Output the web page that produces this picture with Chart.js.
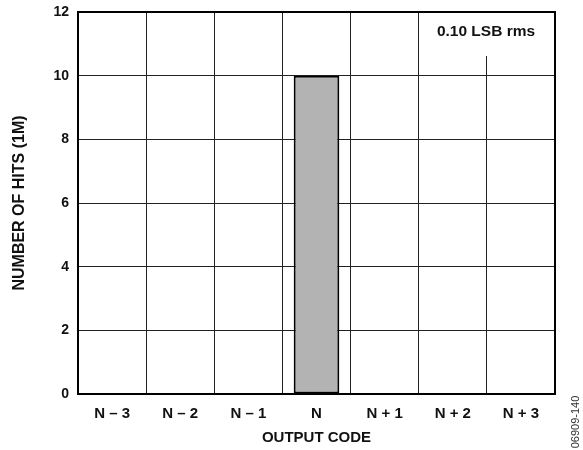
<!DOCTYPE html>
<html>
<head>
<meta charset="utf-8">
<script src="https://cdn.jsdelivr.net/npm/chart.js@4/dist/chart.umd.min.js"></script>
<style>
  html, body { margin: 0; padding: 0; background: #fff; }
  #wrap { width: 583px; height: 450px; }
</style>
</head>
<body>
<div id="wrap"><canvas id="hist"></canvas></div>
<script>
// histogram of output codes
const categories = ['N – 3', 'N – 2', 'N – 1', 'N', 'N + 1', 'N + 2', 'N + 3'];
const hits = [0, 0, 0, 10, 0, 0, 0];
const yTicks = [0, 2, 4, 6, 8, 10, 12];
const noteText = '0.10 LSB rms';
const figId = '06909-140';

const fontName = '"Liberation Sans", Arial, Helvetica, sans-serif';

// white box with the rms note, frame around the plot, figure id
const extras = {
  id: 'extras',
  afterDatasetsDraw(chart) {
    const ctx = chart.ctx;
    const a = chart.chartArea;
    ctx.save();
    ctx.fillStyle = '#fff';
    ctx.fillRect(a.right - 130, a.top + 1, 124, 43);
    ctx.fillStyle = '#111';
    ctx.font = 'bold 15.5px ' + fontName;
    ctx.textAlign = 'center';
    ctx.textBaseline = 'middle';
    ctx.fillText(noteText, a.right - 69, a.top + 20);
    ctx.restore();
  },
  afterDraw(chart) {
    const ctx = chart.ctx;
    const a = chart.chartArea;
    ctx.save();
    ctx.strokeStyle = '#000';
    ctx.lineWidth = 2;
    ctx.strokeRect(a.left, a.top, a.right - a.left, a.bottom - a.top);
    ctx.translate(chart.width - 7, a.bottom + 28);
    ctx.rotate(-Math.PI / 2);
    ctx.fillStyle = '#333';
    ctx.font = '11px ' + fontName;
    ctx.textAlign = 'center';
    ctx.textBaseline = 'middle';
    ctx.fillText(figId, 0, 0);
    ctx.restore();
  }
};

new Chart(document.getElementById('hist'), {
  type: 'bar',
  data: {
    labels: categories,
    datasets: [{
      data: hits,
      backgroundColor: '#b3b3b3',
      borderColor: '#000',
      borderWidth: 2,
      borderSkipped: false,
      barPercentage: 0.67,
      categoryPercentage: 1.0
    }]
  },
  options: {
    responsive: true,
    maintainAspectRatio: false,
    animation: false,
    devicePixelRatio: 1,
    layout: { padding: { left: 0, top: 12, right: 28, bottom: 0 } },
    plugins: {
      legend: { display: false },
      tooltip: { enabled: false }
    },
    scales: {
      x: {
        grid: { color: '#222', lineWidth: 1, drawTicks: false, offset: true },
        border: { display: false },
        ticks: {
          color: '#111',
          font: { family: fontName, size: 15, weight: 'bold' },
          padding: 11,
          maxRotation: 0
        },
        title: {
          display: true,
          text: 'OUTPUT CODE',
          color: '#111',
          font: { family: fontName, size: 15, weight: 'bold' },
          padding: { top: 0, bottom: 3 }
        },
        afterFit(scale) {
          scale.height = 56;
          scale.paddingLeft = 0;
          scale.paddingRight = 0;
        }
      },
      y: {
        min: 0,
        max: 12,
        afterBuildTicks(scale) { scale.ticks = yTicks.map(v => ({ value: v })); },
        grid: { color: '#222', lineWidth: 1, drawTicks: false },
        border: { display: false },
        ticks: {
          color: '#111',
          font: { family: fontName, size: 14, weight: 'bold' },
          padding: 9
        },
        title: {
          display: true,
          text: 'NUMBER OF HITS (1M)',
          color: '#111',
          font: { family: fontName, size: 16, weight: 'bold' },
          padding: { top: 10, bottom: 0 }
        },
        afterFit(scale) {
          scale.width = 78;
          scale.paddingTop = 0;
          scale.paddingBottom = 0;
        }
      }
    }
  },
  plugins: [extras]
});
</script>
</body>
</html>
